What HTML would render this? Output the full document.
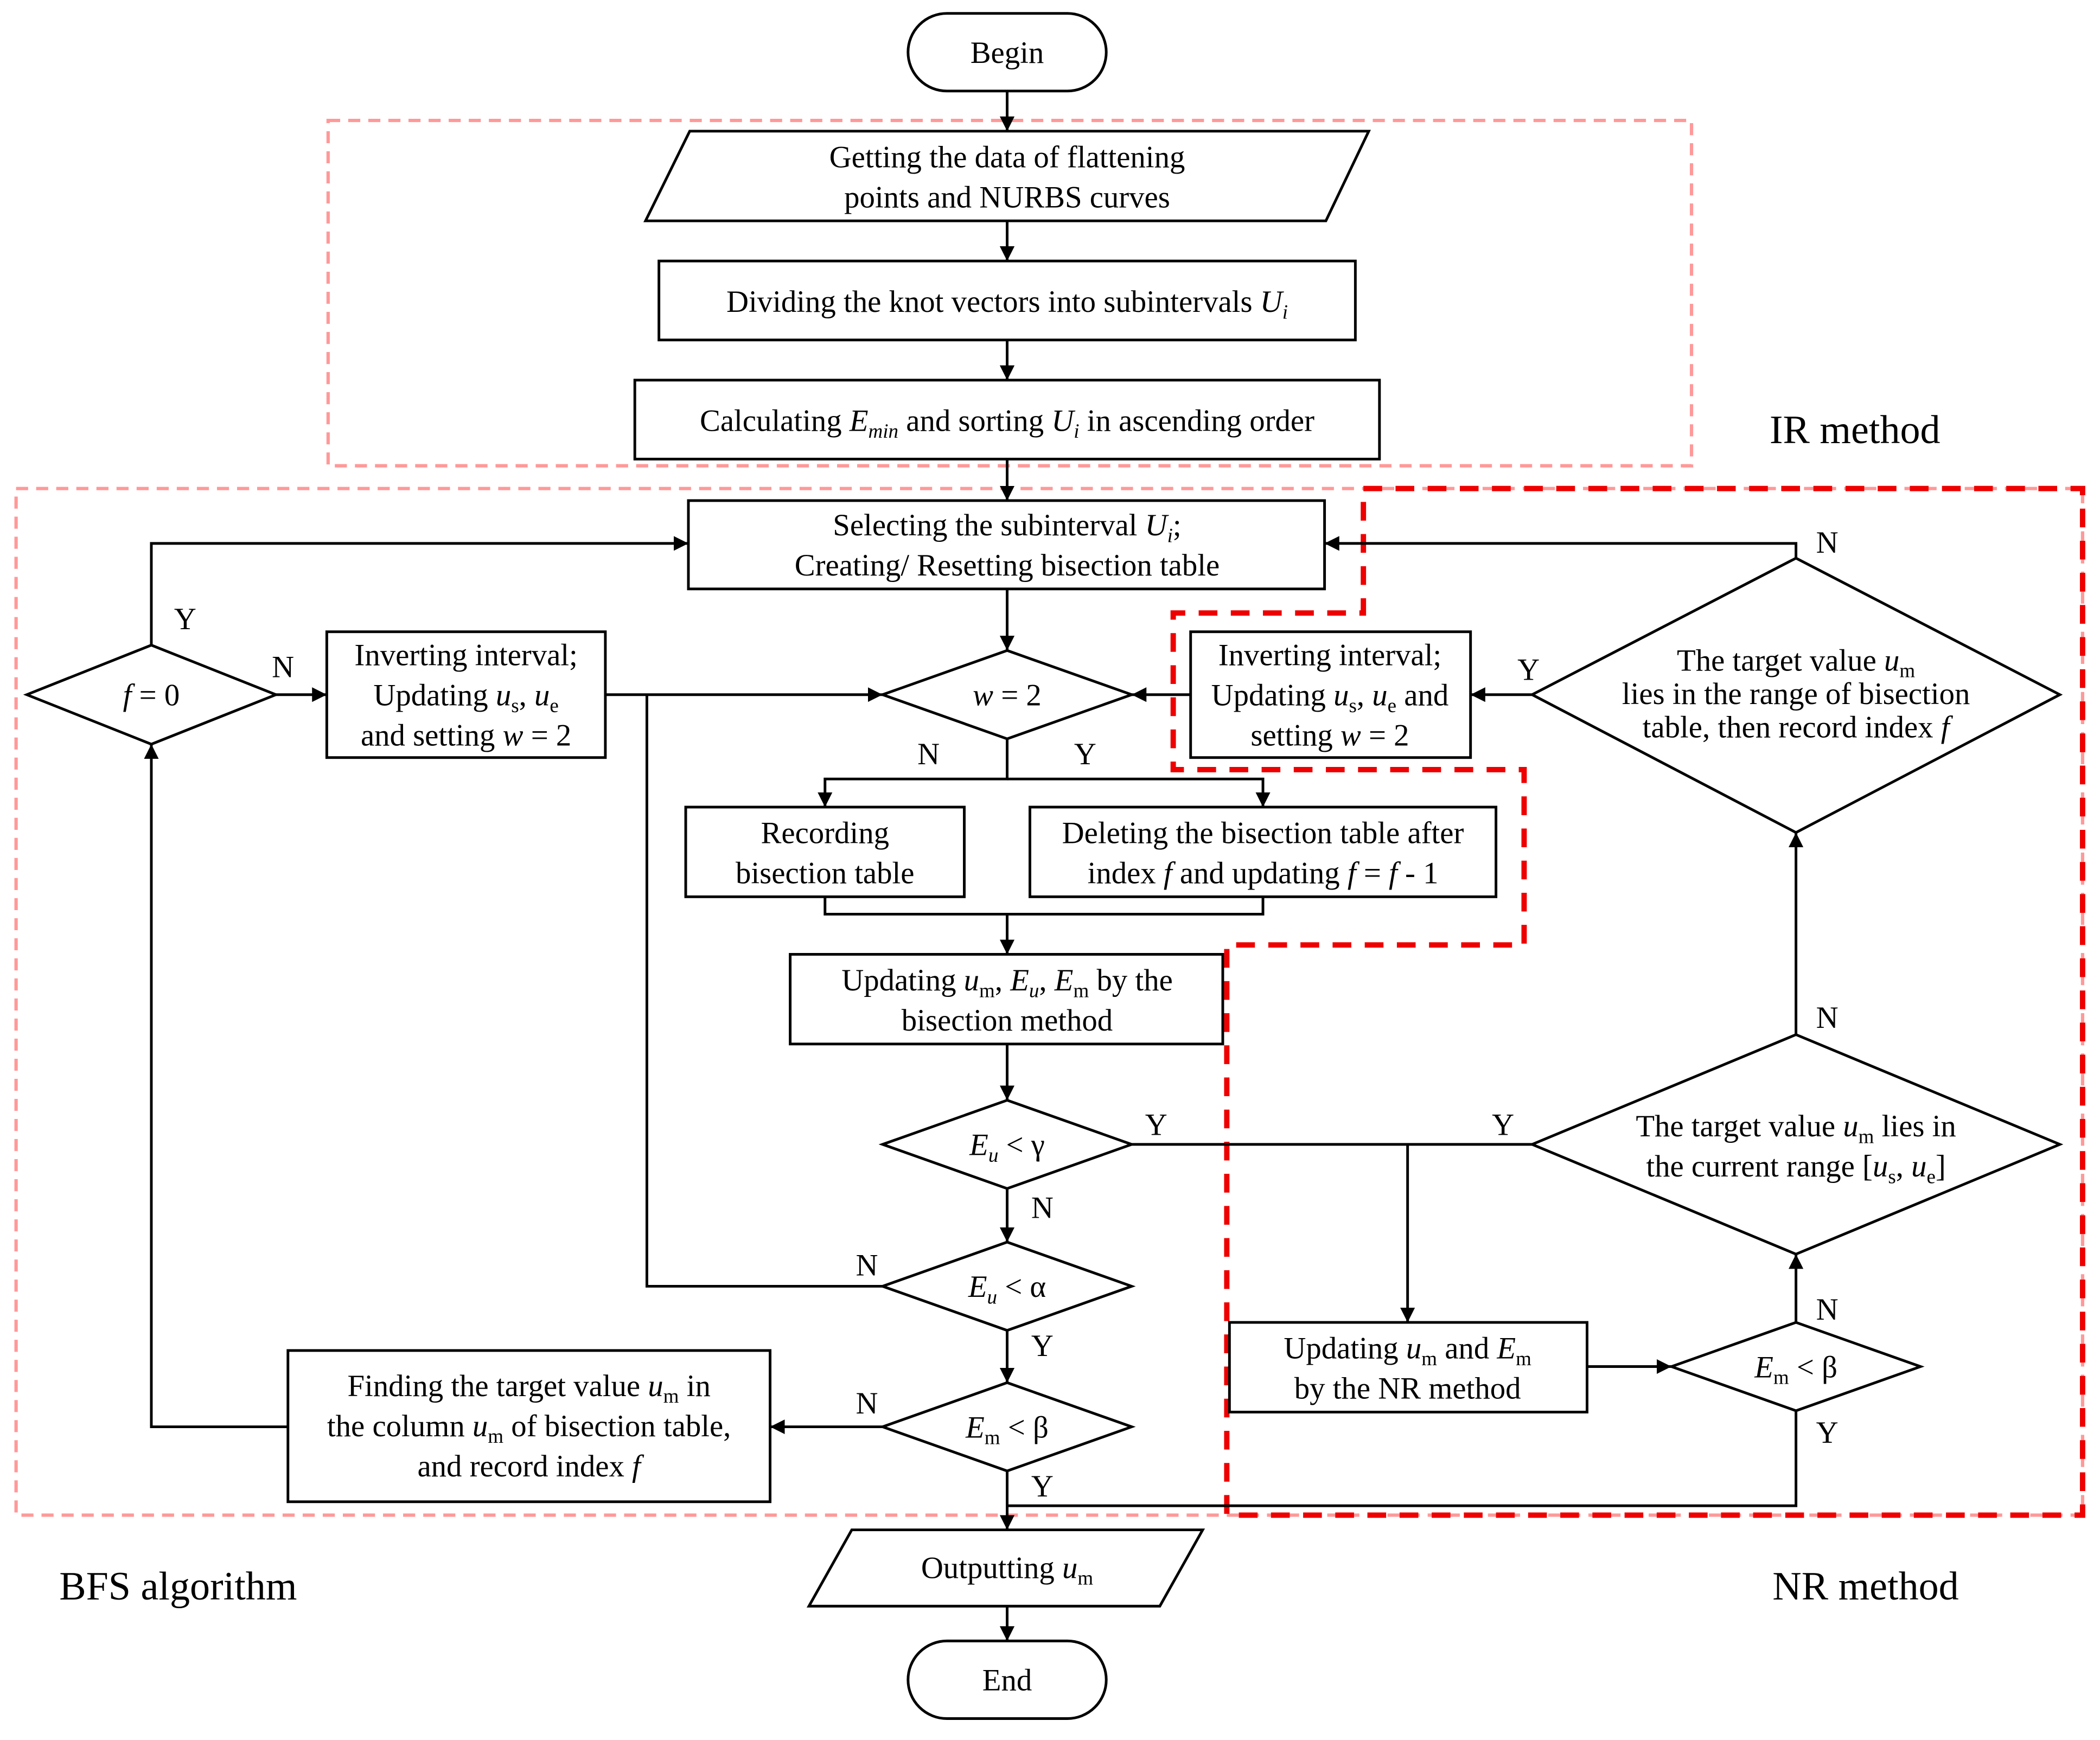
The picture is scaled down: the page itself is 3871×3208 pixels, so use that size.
<!DOCTYPE html>
<html><head><meta charset="utf-8"><style>
html,body{margin:0;padding:0;background:#fff}
svg{display:block}
text{font-family:"Liberation Serif",serif;font-size:23px;fill:#000}
.b{fill:#fff;stroke:#000;stroke-width:2}
.l{fill:none;stroke:#000;stroke-width:2}
.lab{font-size:22px}
.s{font-style:normal;font-size:15px}
</style></head><body>
<svg width="3871" height="3208" viewBox="0 0 1568 1300" preserveAspectRatio="none" xmlns="http://www.w3.org/2000/svg">
<defs>
<marker id="ar" viewBox="0 0 10 10" refX="10" refY="5" markerWidth="11" markerHeight="11" orient="auto" markerUnits="userSpaceOnUse"><path d="M0,0L10,5L0,10z" fill="#000"/></marker></defs>
<rect x="245" y="90" width="1018" height="258" fill="none" stroke="#f99" stroke-width="2.5" stroke-dasharray="9,6"/>
<rect x="12" y="365" width="1543" height="767" fill="none" stroke="#f99" stroke-width="2.5" stroke-dasharray="9,6"/>
<polygon points="1018,365 1555,365 1555,1132 916,1132 916,706 1138,706 1138,575 876,575 876,458 1018,458" fill="none" stroke="#e00" stroke-width="4" stroke-dasharray="14,10"/>
<g class="l" marker-end="url(#ar)">
<path d="M752,68V98"/><path d="M752,165V195"/><path d="M752,254V284"/><path d="M752,343V374"/>
<path d="M752,440V486"/>
<path d="M752,552V582H616V603"/><path d="M752,582H943V603"/>
<path d="M616,670V683H943V670"  marker-end="none"/><path d="M752,683V713"/>
<path d="M752,780V822"/><path d="M752,888V928"/><path d="M752,994V1033"/><path d="M752,1099V1143"/>
<path d="M659,1066H575"/><path d="M215,1066H113V556"/>
<path d="M113,482V406H514"/><path d="M206,519H244"/><path d="M452,519H659"/>
<path d="M659,961H483V519" marker-end="none"/>
<path d="M845,855H1144" marker-end="none"/><path d="M1051,855V988"/>
<path d="M1185,1021H1248"/><path d="M1341,988V937"/>
<path d="M1341,1054V1125H752" marker-end="none"/>
<path d="M1341,773V622"/><path d="M1341,417V406H989"/>
<path d="M1144,519H1098"/><path d="M889,519H845"/><path d="M752,1200V1226"/>
</g>
<rect class="b" x="678" y="10" width="148" height="58" rx="29"/>
<text x="752" y="47" text-anchor="middle">Begin</text>
<polygon class="b" points="515,98 1022,98 990,165 482,165"/>
<text x="752" y="125" text-anchor="middle">Getting the data of flattening</text>
<text x="752" y="155" text-anchor="middle">points and NURBS curves</text>
<rect class="b" x="492" y="195" width="520" height="59"/>
<text x="752" y="233" text-anchor="middle">Dividing the knot vectors into subintervals <tspan font-style="italic">U<tspan font-size="15" dy="5">i</tspan></tspan></text>
<rect class="b" x="474" y="284" width="556" height="59"/>
<text x="752" y="322" text-anchor="middle">Calculating <tspan font-style="italic">E<tspan font-size="15" dy="5">min</tspan></tspan><tspan dy="-5"> and sorting </tspan><tspan font-style="italic">U<tspan font-size="15" dy="5">i</tspan></tspan><tspan dy="-5"> in ascending order</tspan></text>
<text x="1385" y="331" text-anchor="middle" style="font-size:30px">IR method</text>
<rect class="b" x="514" y="374" width="475" height="66"/>
<text x="752" y="400" text-anchor="middle">Selecting the subinterval <tspan font-style="italic">U<tspan font-size="15" dy="5">i</tspan></tspan><tspan dy="-5">;</tspan></text>
<text x="752" y="430" text-anchor="middle">Creating/ Resetting bisection table</text>
<polygon class="b" points="20,519 113,482 206,519 113,556"/>
<text x="113" y="527" text-anchor="middle"><tspan font-style="italic">f</tspan> = 0</text>
<rect class="b" x="244" y="472" width="208" height="94"/>
<text x="348" y="497" text-anchor="middle">Inverting interval;</text>
<text x="348" y="527" text-anchor="middle">Updating <tspan font-style="italic">u</tspan><tspan class="s" dy="5">s</tspan><tspan dy="-5">, </tspan><tspan font-style="italic">u</tspan><tspan class="s" dy="5">e</tspan></text>
<text x="348" y="557" text-anchor="middle">and setting <tspan font-style="italic">w</tspan> = 2</text>
<polygon class="b" points="659,519 752,486 845,519 752,552"/>
<text x="752" y="527" text-anchor="middle"><tspan font-style="italic">w</tspan> = 2</text>
<rect class="b" x="889" y="472" width="209" height="94"/>
<text x="993" y="497" text-anchor="middle">Inverting interval;</text>
<text x="993" y="527" text-anchor="middle">Updating <tspan font-style="italic">u</tspan><tspan class="s" dy="5">s</tspan><tspan dy="-5">, </tspan><tspan font-style="italic">u</tspan><tspan class="s" dy="5">e</tspan><tspan dy="-5"> and</tspan></text>
<text x="993" y="557" text-anchor="middle">setting <tspan font-style="italic">w</tspan> = 2</text>
<polygon class="b" points="1144,519 1341,417 1538,519 1341,622"/>
<text x="1341" y="501" text-anchor="middle">The target value <tspan font-style="italic">u</tspan><tspan class="s" dy="5">m</tspan></text>
<text x="1341" y="526" text-anchor="middle">lies in the range of bisection</text>
<text x="1341" y="551" text-anchor="middle">table, then record index <tspan font-style="italic">f</tspan></text>
<rect class="b" x="512" y="603" width="208" height="67"/>
<text x="616" y="630" text-anchor="middle">Recording</text>
<text x="616" y="660" text-anchor="middle">bisection table</text>
<rect class="b" x="769" y="603" width="348" height="67"/>
<text x="943" y="630" text-anchor="middle">Deleting the bisection table after</text>
<text x="943" y="660" text-anchor="middle">index  <tspan font-style="italic">f</tspan> and updating  <tspan font-style="italic">f</tspan> = <tspan font-style="italic">f</tspan> - 1</text>
<rect class="b" x="590" y="713" width="323" height="67"/>
<text x="752" y="740" text-anchor="middle">Updating <tspan font-style="italic">u</tspan><tspan class="s" dy="5">m</tspan><tspan dy="-5">, </tspan><tspan font-style="italic">E<tspan font-size="15" dy="5">u</tspan></tspan><tspan dy="-5">, </tspan><tspan font-style="italic">E</tspan><tspan class="s" dy="5">m</tspan><tspan dy="-5"> by the</tspan></text>
<text x="752" y="770" text-anchor="middle">bisection method</text>
<polygon class="b" points="659,855 752,822 845,855 752,888"/>
<text x="752" y="863" text-anchor="middle"><tspan font-style="italic">E<tspan font-size="15" dy="5">u</tspan></tspan><tspan dy="-5"> &lt; γ</tspan></text>
<polygon class="b" points="1144,855 1341,773 1538,855 1341,937"/>
<text x="1341" y="849" text-anchor="middle">The target value <tspan font-style="italic">u</tspan><tspan class="s" dy="5">m</tspan><tspan dy="-5"> lies in</tspan></text>
<text x="1341" y="879" text-anchor="middle">the current range [<tspan font-style="italic">u</tspan><tspan class="s" dy="5">s</tspan><tspan dy="-5">, </tspan><tspan font-style="italic">u</tspan><tspan class="s" dy="5">e</tspan><tspan dy="-5">]</tspan></text>
<polygon class="b" points="659,961 752,928 845,961 752,994"/>
<text x="752" y="969" text-anchor="middle"><tspan font-style="italic">E<tspan font-size="15" dy="5">u</tspan></tspan><tspan dy="-5"> &lt; α</tspan></text>
<rect class="b" x="918" y="988" width="267" height="67"/>
<text x="1051" y="1015" text-anchor="middle">Updating <tspan font-style="italic">u</tspan><tspan class="s" dy="5">m</tspan><tspan dy="-5"> and </tspan><tspan font-style="italic">E</tspan><tspan class="s" dy="5">m</tspan></text>
<text x="1051" y="1045" text-anchor="middle">by the NR method</text>
<polygon class="b" points="1248,1021 1341,988 1434,1021 1341,1054"/>
<text x="1341" y="1029" text-anchor="middle"><tspan font-style="italic">E</tspan><tspan class="s" dy="5">m</tspan><tspan dy="-5"> &lt;  β</tspan></text>
<polygon class="b" points="659,1066 752,1033 845,1066 752,1099"/>
<text x="752" y="1074" text-anchor="middle"><tspan font-style="italic">E</tspan><tspan class="s" dy="5">m</tspan><tspan dy="-5"> &lt; β</tspan></text>
<rect class="b" x="215" y="1009" width="360" height="113"/>
<text x="395" y="1043" text-anchor="middle">Finding the target value <tspan font-style="italic">u</tspan><tspan class="s" dy="5">m</tspan><tspan dy="-5"> in</tspan></text>
<text x="395" y="1073" text-anchor="middle">the column <tspan font-style="italic">u</tspan><tspan class="s" dy="5">m</tspan><tspan dy="-5"> of bisection table,</tspan></text>
<text x="395" y="1103" text-anchor="middle">and record index <tspan font-style="italic">f</tspan></text>
<polygon class="b" points="636,1143 898,1143 866,1200 604,1200"/>
<text x="752" y="1179" text-anchor="middle">Outputting <tspan font-style="italic">u</tspan><tspan class="s" dy="5">m</tspan></text>
<rect class="b" x="678" y="1226" width="148" height="58" rx="29"/>
<text x="752" y="1263" text-anchor="middle">End</text>
<text x="133" y="1195" text-anchor="middle" style="font-size:30px">BFS algorithm</text>
<text x="1393" y="1195" text-anchor="middle" style="font-size:30px">NR method</text>
<g class="lab">
<text x="130" y="470">Y</text><text x="203" y="506">N</text>
<text x="685" y="571">N</text><text x="802" y="571">Y</text>
<text x="1356" y="413">N</text><text x="1133" y="508">Y</text>
<text x="855" y="848">Y</text><text x="1114" y="848">Y</text>
<text x="770" y="910">N</text><text x="639" y="953">N</text>
<text x="770" y="1013">Y</text><text x="639" y="1056">N</text>
<text x="770" y="1118">Y</text>
<text x="1356" y="768">N</text><text x="1356" y="986">N</text><text x="1356" y="1078">Y</text>
</g>
</svg>
</body></html>
